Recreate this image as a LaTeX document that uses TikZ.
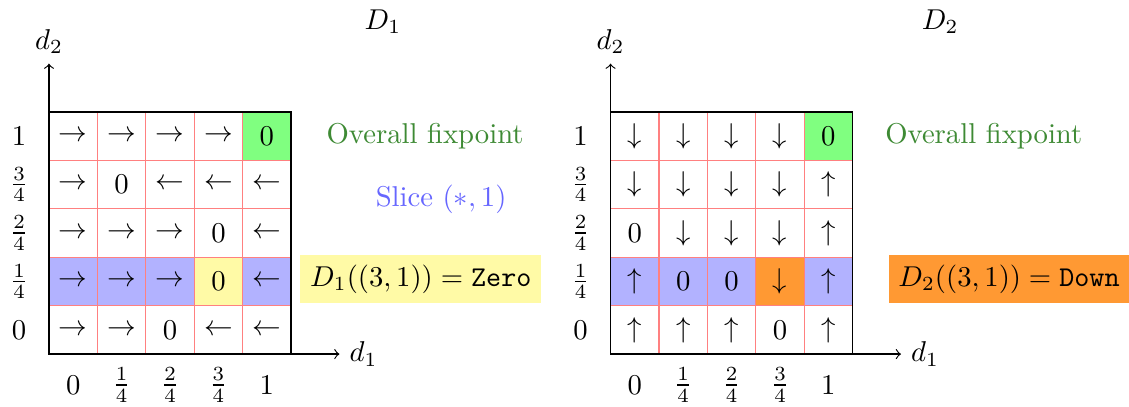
\documentclass[tikz,border=0pt]{standalone}
\usepackage{amsmath,amssymb}
\usepackage{xcolor}
\usetikzlibrary{positioning}

\definecolor{fixgreen}{RGB}{62,138,52}

\begin{document}
\begin{tikzpicture}[
    x=0.593cm, y=0.593cm,
    cellgrid/.style={draw=red!50,line width=0.4pt,step=1},
    frame/.style={draw=black,line width=0.5pt},
    axis/.style={->,draw=black},
    cell/.style={inner sep=0pt},
    fixnote/.style={text=fixgreen},
    slicenote/.style={text=blue!60},
    valbox/.style={inner sep=3.4pt}
  ]
  \useasboundingbox (-1.012,-1.074) rectangle (22.31,7.314);

  % D1 panel
  \fill[blue!30] (0,1) rectangle (5,2);
  \fill[yellow!35] (3,1) rectangle (4,2);
  \fill[green!50] (4,4) rectangle (5,5);
  \draw[cellgrid] (0,0) grid (5,5);
  \draw[frame] (0,0) rectangle (5,5);
  \coordinate (o1) at (0,0);
  \coordinate (xa1) at (6,0);
  \coordinate (ya1) at (0,6);
  \draw[axis] (o1) -- (xa1) node[right] (dx1) {$d_1$};
  \draw[axis] (o1) -- (ya1) node[above] (dy1) {$d_2$};
  \node (t1) at (6.9,6.86) {$D_1$};

  \foreach \row/\cells in {
      4/{\rightarrow,\rightarrow,\rightarrow,\rightarrow,0},
      3/{\rightarrow,0,\leftarrow,\leftarrow,\leftarrow},
      2/{\rightarrow,\rightarrow,\rightarrow,0,\leftarrow},
      1/{\rightarrow,\rightarrow,\rightarrow,0,\leftarrow},
      0/{\rightarrow,\rightarrow,0,\leftarrow,\leftarrow}}
    \foreach \c [count=\col from 0] in \cells
      \node[cell] (a-\col-\row) at (\col+0.5,\row+0.5) {$\c$};

  \foreach \lab [count=\i from 0] in {0,\frac{1}{4},\frac{2}{4},\frac{3}{4},1} {
    \node (ar\i) at (-0.62,\i+0.5) {$\lab$};
    \node (ac\i) at (\i+0.5,-0.64) {$\lab$};
  }

  \node[fixnote] (fix1) at (7.77,4.5) {Overall fixpoint};
  \node[slicenote] (slice1) at (8.1,3.2) {Slice $(*,1)$};
  \node[valbox,fill=yellow!35] (val1) at (7.68,1.55) {$D_1((3,1)) = \texttt{Zero}$};

  % D2 panel
  \begin{scope}[xshift=6.879cm]
    \fill[blue!30] (0,1) rectangle (5,2);
    \fill[orange!80] (3,1) rectangle (4,2);
    \fill[green!50] (4,4) rectangle (5,5);
    \draw[cellgrid] (0,0) grid (5,5);
    \draw[frame] (0,0) rectangle (5,5);
    \coordinate (o2) at (0,0);
    \coordinate (xa2) at (6,0);
    \coordinate (ya2) at (0,6);
    \draw[axis] (o2) -- (xa2) node[right] (dx2) {$d_1$};
    \draw[axis] (o2) -- (ya2) node[above] (dy2) {$d_2$};
    \node (t2) at (6.81,6.86) {$D_2$};

    \foreach \row/\cells in {
        4/{\downarrow,\downarrow,\downarrow,\downarrow,0},
        3/{\downarrow,\downarrow,\downarrow,\downarrow,\uparrow},
        2/{0,\downarrow,\downarrow,\downarrow,\uparrow},
        1/{\uparrow,0,0,\downarrow,\uparrow},
        0/{\uparrow,\uparrow,\uparrow,0,\uparrow}}
      \foreach \c [count=\col from 0] in \cells
        \node[cell] (b-\col-\row) at (\col+0.5,\row+0.5) {$\c$};

    \foreach \lab [count=\i from 0] in {0,\frac{1}{4},\frac{2}{4},\frac{3}{4},1} {
      \node (br\i) at (-0.62,\i+0.5) {$\lab$};
      \node (bc\i) at (\i+0.5,-0.64) {$\lab$};
    }

    \node[fixnote] (fix2) at (7.71,4.5) {Overall fixpoint};
    \node[valbox,fill=orange!80] (val2) at (8.23,1.55) {$D_2((3,1)) = \texttt{Down}$};
  \end{scope}
\end{tikzpicture}
\end{document}
